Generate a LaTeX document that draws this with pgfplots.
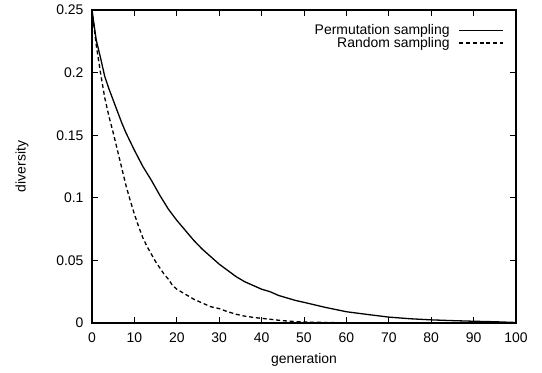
\documentclass[border=0pt]{standalone}
\usepackage{pgfplots}
\pgfplotsset{compat=1.18}
\usepackage{fontspec}
\setmainfont{Liberation Sans}
\newcommand{\cf}{\fontsize{14}{16}\selectfont}
\begin{document}
\begin{tikzpicture}
\begin{axis}[
  at={(0,0)}, anchor=south west,
  scale only axis,
  width=424bp, height=313bp,
  xmin=0, xmax=100, ymin=0, ymax=0.25,
  xtick={0,10,...,100},
  ytick={0,0.05,0.1,0.15,0.2,0.25},
  yticklabels={0,0.05,0.1,0.15,0.2,0.25},
  scaled y ticks=false,
  tick align=inside,
  major tick length=6bp,
  tick style={line width=0.9bp, black},
  axis line style={line width=1.2bp},
  /pgf/number format/assume math mode=true,
  tick label style={font=\cf},
  xticklabel style={yshift=-6bp},
  yticklabel style={xshift=-5bp},
  label style={font=\cf},
  xlabel={generation}, ylabel={diversity},
  xlabel style={at={(axis description cs:0.5,-0.118)}, anchor=center},
  ylabel style={at={(axis description cs:-0.165,0.5)}, anchor=center},
  legend style={draw=none, fill=none, at={(0.972,0.96)}, anchor=north east,
    row sep=-3bp, column sep=7bp, font=\cf, inner sep=0bp},
  legend cell align=right,
  legend plot pos=right,
  legend image code/.code={\draw[#1] (0bp,0bp) -- (44bp,0bp);},
]
\addplot[black, line width=1.3bp] coordinates {
(0,0.25) (1,0.226) (2,0.212) (3,0.197) (4,0.187) (5,0.178) (6,0.169) (7,0.160) (8,0.152) (9,0.145) (10,0.138)
(12,0.125) (14,0.114) (16,0.102) (18,0.091) (20,0.082) (22,0.074) (24,0.066) (26,0.059) (28,0.053)
(30,0.047) (32,0.042) (34,0.037) (36,0.033) (38,0.030) (40,0.027) (42,0.025) (44,0.022) (46,0.020) (48,0.018)
(50,0.0165) (55,0.0125) (60,0.009) (65,0.0068) (70,0.0047) (75,0.0034) (80,0.0025) (85,0.0019) (90,0.0014) (95,0.0010) (100,0.0004)
};
\addlegendentry{Permutation sampling}
\addplot[black, line width=1.3bp, dash pattern=on 4bp off 2.8bp] coordinates {
(0,0.25) (1,0.222) (2,0.200) (3,0.180) (4,0.165) (5,0.152) (6,0.138) (7,0.124) (8,0.110) (9,0.098) (10,0.087)
(11,0.077) (12,0.068) (13,0.061) (14,0.055) (15,0.049) (16,0.044) (17,0.039) (18,0.035) (19,0.030) (20,0.027)
(22,0.023) (24,0.019) (26,0.016) (28,0.013) (30,0.0115) (32,0.009) (34,0.007) (36,0.0055) (38,0.0045)
(40,0.0037) (42,0.003) (44,0.0022) (46,0.0016) (48,0.0011) (50,0.0008) (55,0.0004) (60,0.0002) (70,0.0001)
(80,0.00005) (90,0.00002) (100,0)
};
\addlegendentry{Random sampling}
\end{axis}
\pgfresetboundingbox
\path (-92bp,-50bp) rectangle (450bp,323bp);
\end{tikzpicture}
\end{document}
